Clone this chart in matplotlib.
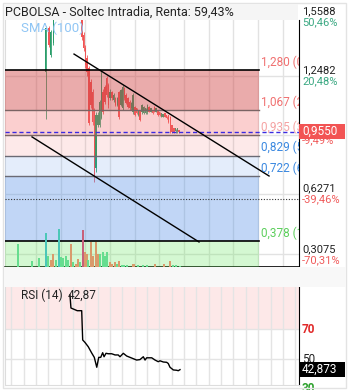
import numpy as np
import matplotlib
matplotlib.use("Agg")
import matplotlib.pyplot as plt
from matplotlib.patches import Rectangle

plt.rcParams['font.family'] = ['Roboto', 'DejaVu Sans']

W, H = 353, 390

title = "PCBOLSA - Soltec Intradia, Renta: 59,43%"

# intraday candles, x in trading-day units
t_early = [3.30, 3.56, 3.70, 3.91]
o_early = [1.270, 1.502, 1.359, 1.422]
h_early = [1.510, 1.510, 1.490, 1.560]
l_early = [1.022, 1.400, 1.350, 1.410]
c_early = [1.502, 1.412, 1.480, 1.550]

o_main = [1.560, 1.465, 1.396, 1.343, 1.291, 1.217, 1.164, 1.069, 0.763, 0.990,
          0.990, 1.027, 1.164, 1.190, 1.238, 1.201, 1.131, 1.166, 1.122, 1.131,
          1.095, 1.166, 1.095, 1.078, 1.183, 1.148, 1.131, 1.113, 1.078, 1.060,
          1.086, 1.078, 1.043, 1.069, 1.060, 1.052, 1.052, 1.060, 1.086, 1.060,
          1.069, 1.086, 1.060, 1.069, 1.060, 1.034, 1.034, 1.052, 1.043, 1.043,
          1.034, 0.990, 0.972, 0.958, 0.958, 0.962]
c_main = [1.454, 1.396, 1.306, 1.269, 1.000, 1.095, 1.006, 0.710, 1.043, 1.043,
          1.111, 1.264, 1.058, 1.111, 1.148, 1.095, 1.166, 1.131, 1.148, 1.095,
          1.131, 1.034, 1.175, 1.192, 1.131, 1.104, 1.086, 1.078, 1.104, 1.148,
          1.043, 1.052, 1.069, 1.016, 1.095, 1.086, 1.078, 1.095, 1.060, 1.078,
          1.052, 1.060, 1.078, 1.043, 1.043, 1.052, 1.047, 1.034, 1.025, 1.008,
          0.955, 0.955, 0.955, 0.972, 0.972, 0.955]
h_main = [1.58, 1.48, 1.41, 1.36, 1.30, 1.23, 1.18, 1.08, 1.06, 1.06,
          1.12, 1.28, 1.18, 1.20, 1.25, 1.21, 1.18, 1.17, 1.16, 1.14,
          1.14, 1.17, 1.18, 1.20, 1.19, 1.16, 1.14, 1.12, 1.11, 1.16,
          1.09, 1.08, 1.07, 1.07, 1.10, 1.09, 1.08, 1.10, 1.09, 1.08,
          1.07, 1.09, 1.08, 1.07, 1.06, 1.05, 1.05, 1.05, 1.04, 1.04,
          1.04, 0.99, 0.97, 0.97, 0.97, 0.96]
l_main = [1.44, 1.38, 1.29, 1.25, 0.99, 1.08, 0.99, 0.69, 0.74, 0.98,
          0.98, 1.02, 1.05, 1.10, 1.14, 1.08, 1.12, 1.12, 1.11, 1.09,
          1.09, 1.02, 1.09, 1.07, 1.12, 1.10, 1.08, 1.07, 1.07, 1.05,
          1.04, 1.05, 1.04, 1.01, 1.05, 1.05, 1.05, 1.05, 1.06, 1.06,
          1.05, 1.06, 1.06, 1.04, 1.04, 1.03, 1.03, 1.03, 1.02, 1.00,
          0.95, 0.95, 0.95, 0.95, 0.95, 0.95]
t_main = 6.23 + 0.143 * np.arange(len(o_main))

# volume (thousands), direction code: u/d normal, U/D large
vol_t = [1.08, 2.16, 2.75, 3.30, 3.51, 3.70, 3.91, 4.11, 4.35, 4.51,
         4.72, 4.91, 5.13, 5.32, 5.53, 5.72, 5.89, 6.07, 6.29, 6.48,
         6.62, 6.74, 6.96, 7.15, 7.34, 7.51, 7.69, 7.91, 8.10, 8.28,
         8.50, 8.69, 8.91, 9.09, 9.26, 9.50, 9.66, 9.90, 10.34, 10.47,
         10.79, 11.15, 11.47, 12.15, 12.90, 13.36, 13.58, 13.85, 14.17]
vol = [234, 60, 93, 340, 107, 73, 127, 67, 380, 100,
       93, 113, 73, 233, 50, 33, 83, 50, 366, 150,
       127, 73, 250, 107, 250, 127, 127, 150, 107, 150,
       50, 33, 50, 33, 57, 23, 20, 17, 33, 33,
       23, 17, 23, 27, 27, 57, 20, 17, 13]
vol_dir = list("uuuUudduUu" "uuududduDd" "dudddduuuu" "ddduduuudd" "uuuddduuu")

# fibonacci levels
fib_price = [1.280, 1.067, 0.935, 0.829, 0.722, 0.378]
fib_pct = ["0%", "23,6%", "38,2%", "50%", "61,8%", "100%"]
current = 0.955
dotted_level = 0.600

# trend channel (day, price)
upper_line = [(5.59, 1.364), (21.38, 0.721)]
lower_line = [(2.19, 0.927), (15.71, 0.373)]

# right axis (price label hidden behind the current-price box where False)
grid_price = [1.5588, 1.2482, 0.9374, 0.6271, 0.3075]
grid_show = [True, True, False, True, True]
grid_pct = ["50,46%", "20,48%", "-9,49%", "-39,46%", "-70,31%"]

day_labels = ["31", "5", "7", "9", "13", "15", "19", "21", "23", "27", "29"]
day_pos = [1.45 + 2 * k for k in range(len(day_labels))]

# RSI
rsi_t = [5.26, 5.34, 5.85, 6.21, 6.29, 6.48, 6.74, 7.02, 7.23, 7.43,
         7.59, 7.75, 7.91, 8.02, 8.18, 8.36, 8.64, 8.91, 9.17, 9.31,
         9.58, 9.85, 10.12, 10.39, 10.66, 10.93, 11.20, 11.34, 11.47, 11.88,
         12.15, 12.41, 12.55, 12.82, 13.09, 13.22, 13.36, 13.63, 13.90, 14.03, 14.17]
rsi_v = [92.7, 84.0, 82.2, 82.2, 62.7, 61.0, 58.2, 54.0, 51.1, 44.5,
         51.1, 51.1, 54.2, 51.5, 53.8, 53.5, 53.5, 52.7, 52.7, 51.5,
         53.8, 52.0, 51.1, 50.2, 49.3, 49.6, 51.5, 49.3, 50.8, 50.8,
         49.3, 48.2, 48.8, 48.0, 47.8, 47.0, 44.5, 42.7, 42.5, 42.2, 42.9]
rsi_last = 42.873

# ---------------------------------------------------------------
fig = plt.figure(figsize=(W / 100, H / 100), dpi=100)
fig.patch.set_facecolor("white")

def fbox(x0, y0, x1, y1, **kw):
    # rectangle in figure pixels (y from top)
    fig.patches.append(Rectangle((x0 / W, 1 - y1 / H), (x1 - x0) / W, (y1 - y0) / H,
                                 transform=fig.transFigure, **kw))

fbox(3, 3, 346, 388, fill=False, edgecolor="#e3e3e3", lw=1)
fbox(4, 4, 298, 20, facecolor="#f5f5f5", edgecolor="none")
fbox(4, 267, 346, 287, facecolor="#f8f8f8", edgecolor="none")

ax = fig.add_axes([5 / W, 1 - 267 / H, 294 / W, 247 / H])
XMAX = 294 / 12.35
ax.set_xlim(0, XMAX)
ax.set_ylim(0.2410, 1.5437)

# grid
for v in grid_price:
    ax.axhline(v, color="#e2e2e2", lw=1, zorder=1)
for k in range(11):
    ax.axvline(2.5 + 2 * k, color="#e2e2e2", lw=1, zorder=1)

# candles
up_c, dn_c = "#2a9d6a", "#f05454"
t_all = list(t_early) + list(t_main)
o_all = o_early + o_main
c_all = c_early + c_main
h_all = h_early + h_main
l_all = l_early + l_main
cols = [up_c if c >= o else dn_c for o, c in zip(o_all, c_all)]
ax.vlines(t_all, l_all, h_all, colors=cols, lw=0.6, zorder=2)
ax.bar(t_all, np.array(c_all) - np.array(o_all), bottom=o_all, width=0.12,
       color=cols, zorder=2)

# fib zones (translucent, over candles)
zone_end = 20.57
zone_cols = [((0.82, 0.27, 0.27), 0.45), ((0.96, 0.39, 0.39), 0.30),
             ((0.94, 0.31, 0.31), 0.12), ((0.31, 0.55, 0.90), 0.15),
             ((0.31, 0.55, 0.90), 0.35), ((0.39, 0.90, 0.35), 0.27)]
bounds = fib_price + [0.0]
for i in range(6):
    col, a = zone_cols[i]
    ax.fill_between([0, zone_end], bounds[i + 1], bounds[i], color=col, alpha=a,
                    lw=0, zorder=3)

line_cols = ["black", "#7a6464", "#7a6464", "#6a6a74", "#6a6a74", "black"]
line_w = [1.2, 1, 1, 1, 1, 1.2]
lab_cols = ["#f07070", "#f07070", "#f5a3a3", "#3a88e0", "#3a88e0", "#5ccf5c"]
for p, pct, lc, lw, tc in zip(fib_price, fib_pct, line_cols, line_w, lab_cols):
    ax.plot([0, zone_end], [p, p], color=lc, lw=lw, zorder=4)
    ax.text(20.75, p + 0.006, "%s (%s)" % (("%.3f" % p).replace(".", ","), pct),
            color=tc, fontsize=8.5, va="bottom", ha="left", clip_on=True, zorder=5)

ax.axhline(current, color="#3a2ae0", lw=1, ls=(0, (3, 2)), zorder=4)
ax.axhline(dotted_level, color="#333333", lw=0.8, ls=(0, (1, 1.5)), zorder=4)

for seg in (upper_line, lower_line):
    xs, ys = zip(*seg)
    ax.plot(xs, ys, color="black", lw=1, zorder=4)

ax.text(16 / 294, 1 - 8 / 247, "SMA (100)", transform=ax.transAxes, color="#90c6f5",
        fontsize=9.5, va="center", ha="left", zorder=5)

# volume
vax = ax.twinx()
vax.set_ylim(0, 2470)
vax.set_xlim(0, XMAX)
vcol = {"u": "#66dd8f", "d": "#d99a6c", "U": "#4cc7b8", "D": "#c8607a"}
vax.bar(vol_t, vol, width=0.15, color=[vcol[d] for d in vol_dir], zorder=2)
vax.set_axis_off()

# spines / ticks
ax.spines["top"].set_visible(False)
ax.spines["left"].set_color("#dddddd")
ax.spines["right"].set_color("black")
ax.spines["bottom"].set_color("black")
ax.spines["bottom"].set_linewidth(1.2)
ax.set_yticks([])
ax.set_xticks(day_pos)
ax.set_xticklabels(day_labels, ha="left", fontsize=8.5, color="#333333")
ax.tick_params(axis="x", length=0, pad=4)

# right axis labels
ytr = ax.get_yaxis_transform()
for v, show, pct in zip(grid_price, grid_show, grid_pct):
    if show:
        ax.text(1 + 3 / 294, v + 0.003, ("%.4f" % v).replace(".", ","), transform=ytr,
                fontsize=8, color="#222222", va="bottom", ha="left", clip_on=False)
    ax.text(1 + 3 / 294, v - 0.003, pct, transform=ytr, fontsize=8,
            color="#3aa882" if not pct.startswith("-") else "#f05a5a",
            va="top", ha="left", clip_on=False)
ax.add_patch(Rectangle((1, current - 7.5 / 189.6), 46 / 294, 15 / 189.6, transform=ytr,
                       facecolor="#f25454", edgecolor="none", clip_on=False, zorder=6))
ax.text(1 + 3 / 294, current, ("%.4f" % current).replace(".", ","), transform=ytr,
        fontsize=8.5, color="white", va="center", ha="left", clip_on=False, zorder=7)

# title
fig.text(5 / W, 1 - 12 / H, title, fontsize=9, color="#222222", va="center", ha="left")

# RSI panel
rax = fig.add_axes([5 / W, 1 - 385 / H, 294 / W, 98 / H])
rax.set_xlim(0, XMAX)
rax.set_ylim(32.67, 98)
rax.axhspan(70, 100, color="#fde8e8", lw=0, zorder=0)
for k in range(24):
    rax.axvline(0.5 + k, color="#e4e4e4", lw=1, zorder=1)
for v in (70, 50):
    rax.axhline(v, color="#e4e4e4", lw=1, zorder=1)
rax.plot(rsi_t, rsi_v, color="black", lw=1, zorder=3)
rax.set_xticks([])
rax.set_yticks([])
rax.spines["top"].set_visible(False)
rax.spines["left"].set_color("#dddddd")
rax.spines["bottom"].set_color("#dddddd")
rax.spines["right"].set_color("black")
rtr = rax.get_yaxis_transform()
rax.text(1 + 3 / 294, 70, "70", transform=rtr, fontsize=8.5, color="#e02828",
         fontweight="bold", va="center", ha="left", clip_on=False)
rax.text(1 + 3 / 294, 50, "50", transform=rtr, fontsize=8.5, color="#222222",
         va="center", ha="left", clip_on=False)
rax.text(1 + 3 / 294, 30.5, "30", transform=rtr, fontsize=8.5, color="#2aa02a",
         fontweight="bold", va="center", ha="left", clip_on=False)
rax.add_patch(Rectangle((1, rsi_last - 5), 46 / 294, 10, transform=rtr,
                        facecolor="black", edgecolor="none", clip_on=False, zorder=6))
rax.text(1 + 3 / 294, rsi_last, ("%.3f" % rsi_last).replace(".", ","), transform=rtr,
         fontsize=8.5, color="white", va="center", ha="left", clip_on=False, zorder=7)
rax.text(16 / 294, 1 - 8 / 98, "RSI (14)", transform=rax.transAxes, fontsize=8.5,
         color="#222222", va="center", ha="left")
rax.text(63 / 294, 1 - 8 / 98, ("%.2f" % rsi_last).replace(".", ","),
         transform=rax.transAxes, fontsize=8.5, color="#222222", va="center", ha="left")

fig.savefig("out.png", dpi=100)
